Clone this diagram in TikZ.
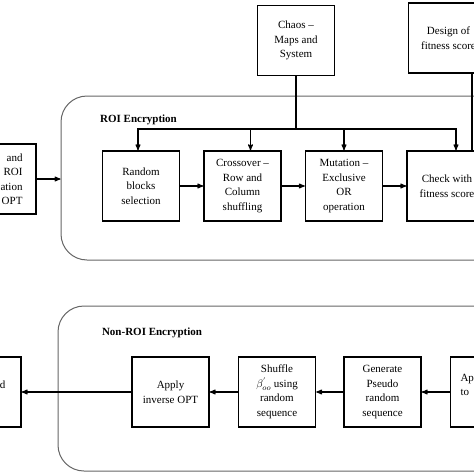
\documentclass[tikz,border=0pt]{standalone}
\usepackage{fontspec}
\setmainfont{Liberation Serif}
\usetikzlibrary{arrows, positioning}
\tikzset{
  blockbox/.style={draw, line width=1.5pt, minimum width=77pt, minimum height=70pt, inner sep=1pt, align=center, font=\fontsize{11}{14.5}\selectfont},
  groupbox/.style={draw=black!60, line width=1pt, rounded corners=26pt},
  grouptitle/.style={font=\fontsize{11}{13}\selectfont\bfseries}
}

\begin{document}
\begin{tikzpicture}[>=stealth', line width=1.1pt, x=1pt, y=-1pt, node distance=23pt]
\useasboundingbox (0,0) rectangle (474,474);
\clip (0,0) rectangle (474,474);
% containers
\node[groupbox, minimum width=500pt, minimum height=164pt] (roigroup) at (311,178) {};
\node[groupbox, minimum width=500pt, minimum height=165pt] (nonroigroup) at (308,388.5) {};
\node[grouptitle] (roititle) at (138.5,120) {ROI Encryption};
\node[grouptitle] (nonroititle) at (152,333) {Non-ROI Encryption};
% ROI row
\node[blockbox, text width=50pt, align=right] (inbox) at (-2.5,179) {and\\ROI\\ation\\OPT};
\node[blockbox] (randsel) at (141,186) {Random\\blocks\\selection};
\node[blockbox, right=of randsel] (crossover) {Crossover --\\Row and\\Column\\shuffling};
\node[blockbox, right=of crossover] (mutation) {Mutation --\\Exclusive\\OR\\operation};
\node[blockbox, minimum width=80pt, right=of mutation] (check) {Check with\\fitness score};
\node[blockbox] (chaos) at (296,40.5) {Chaos --\\Maps and\\System};
\node[blockbox, minimum width=80pt] (fitdesign) at (448.5,38) {Design of\\fitness score};
% non-ROI row
\node[blockbox, text width=46pt, align=right] (outbox) at (-17.5,392) {d\\\mbox{}};
\node[blockbox] (applyinv) at (170.5,392) {Apply\\inverse OPT};
\node[blockbox, right=28pt of applyinv] (shuffle) {Shuffle\\$\beta^{'}_{oo}$ using\\random\\sequence};
\node[blockbox, right=27pt of shuffle] (generate) {Generate\\Pseudo\\random\\sequence};
\node[blockbox, text width=57pt, align=left, right=28pt of generate] (applyopt) {Ap\\to\\\mbox{}};
% connectors
\draw[->] (inbox.east) -- (inbox.east -| roigroup.west);
\draw (chaos.south) -- (chaos.south |- 0,129) coordinate (chaoshub);
\draw[->] (chaoshub) -| ([xshift=-3pt]randsel.north);
\draw[->] (chaoshub) -| ([xshift=8pt]crossover.north);
\draw[->] (chaoshub) -| (mutation.north);
\draw[->] (chaoshub) -| ([xshift=9pt]check.north);
\draw ([xshift=23.5pt]fitdesign.south) -- ([xshift=23.5pt]fitdesign.south |- check.north);
\draw[->] (randsel) -- (crossover);
\draw[->] (crossover) -- (mutation);
\draw[->] (mutation) -- (check);
\draw[->] (applyopt) -- (generate);
\draw[->] (generate) -- (shuffle);
\draw[->] (shuffle) -- (applyinv);
\draw[->] (applyinv) -- (outbox);
\end{tikzpicture}
\end{document}
